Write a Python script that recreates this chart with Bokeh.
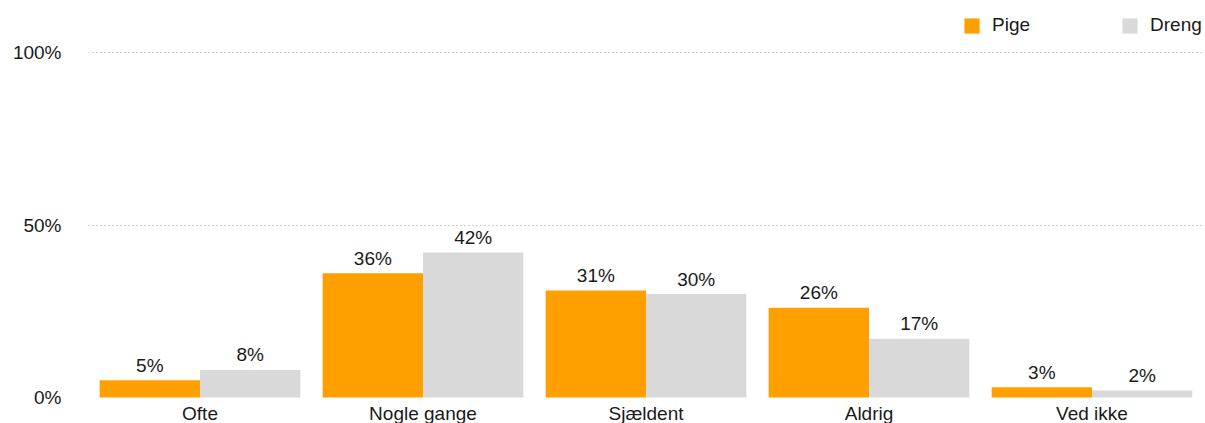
from bokeh.plotting import figure
from bokeh.models import ColumnDataSource, FixedTicker, Legend, LegendItem, Range1d
from bokeh.transform import dodge
from bokeh.core.properties import value
from bokeh.embed import file_html
from bokeh.resources import INLINE

categories = ["Ofte", "Nogle gange", "Sjældent", "Aldrig", "Ved ikke"]
pige = [5, 36, 31, 26, 3]
dreng = [8, 42, 30, 17, 2]
y_ticks = [0, 50, 100]
y_tick_labels = ["0%", "50%", "100%"]
grid_ticks = [50, 100]

ORANGE = "#ffa000"
GRAY = "#d9d9d9"
FONT = "Liberation Sans"
TXT = "#1a1a1a"
FS = "19px"

src = ColumnDataSource(dict(
    cat=categories, pige=pige, dreng=dreng,
    zero=[0] * len(categories),
    pige_lbl=[f"{v}%" for v in pige],
    dreng_lbl=[f"{v}%" for v in dreng],
))

# frame spans the full height: 0% at y=397px, 100% at y=52px (345px per 100)
PX_PER_UNIT = 3.45
Y_TOP = 397 / PX_PER_UNIT
Y_BOT = -(423 - 397) / PX_PER_UNIT

p = figure(x_range=categories, y_range=Range1d(Y_BOT, Y_TOP), width=1205, height=423,
           output_backend="svg", toolbar_location=None,
           min_border_left=88, min_border_right=2, min_border_top=0, min_border_bottom=0)
p.outline_line_color = None
p.background_fill_color = "white"
p.border_fill_color = "white"

r1 = p.vbar(x=dodge("cat", -0.225, range=p.x_range), top="pige", bottom="zero", width=0.45,
            source=src, fill_color=ORANGE, line_color=None)
r2 = p.vbar(x=dodge("cat", 0.225, range=p.x_range), top="dreng", bottom="zero", width=0.45,
            source=src, fill_color=GRAY, line_color=None)

for col, off in (("pige", -0.225), ("dreng", 0.225)):
    p.text(x=dodge("cat", off, range=p.x_range), y=col, text=col + "_lbl", source=src,
           text_align="center", text_baseline="alphabetic", y_offset=-15,
           text_font=value(FONT), text_font_size=FS, text_color=TXT)

# category labels under each group
p.text(x="cat", y="zero", text="cat", source=src, text_align="center",
       text_baseline="alphabetic", y_offset=16,
       text_font=value(FONT), text_font_size=FS, text_color=TXT)

p.xaxis.visible = False
p.xgrid.grid_line_color = None
p.ygrid.ticker = FixedTicker(ticks=grid_ticks)
p.ygrid.grid_line_color = "#a0a0a0"
p.ygrid.grid_line_dash = "1 3"
p.ygrid.grid_line_width = 1

ax = p.yaxis[0]
ax.ticker = FixedTicker(ticks=y_ticks)
ax.major_label_overrides = {t: l for t, l in zip(y_ticks, y_tick_labels)}
ax.axis_line_color = None
ax.major_tick_line_color = None
ax.minor_tick_line_color = None
ax.major_tick_out = 0
ax.major_tick_in = 0
ax.major_label_text_font = FONT
ax.major_label_text_font_size = FS
ax.major_label_text_color = TXT
ax.major_label_standoff = 27

legend = Legend(items=[LegendItem(label="Pige", renderers=[r1]),
                       LegendItem(label="Dreng", renderers=[r2])],
                orientation="horizontal", location=(874, 387),
                glyph_width=19, glyph_height=19, label_standoff=11, spacing=90,
                label_height=19,
                padding=0, margin=0, border_line_color=None, background_fill_alpha=0,
                label_text_font=FONT, label_text_font_size=FS, label_text_color=TXT)
p.add_layout(legend, "center")

open("out.html", "w").write(file_html(p, INLINE))
